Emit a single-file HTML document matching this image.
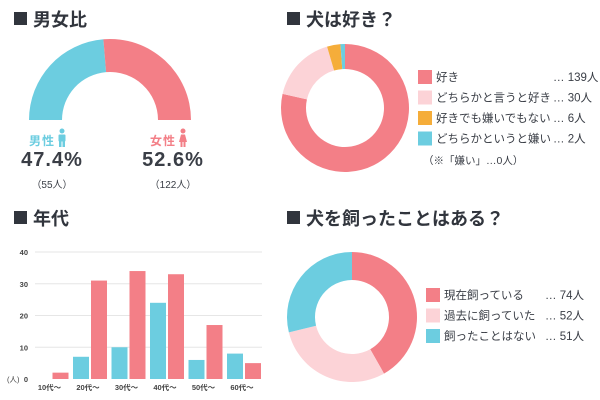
<!DOCTYPE html>
<html><head><meta charset="utf-8"><style>
body{margin:0;background:#fff;}
svg{display:block;font-family:"Liberation Sans","Noto Sans CJK JP",sans-serif;}
</style></head><body>
<svg id="s" width="600" height="400" viewBox="0 0 600 400" xmlns="http://www.w3.org/2000/svg">
<g fill="#31353d" font-weight="bold" font-size="18">
<rect x="14" y="12" width="13" height="13"/>
<text x="33" y="26">男女比</text>
<rect x="287" y="12" width="13" height="13"/>
<text x="306" y="26">犬は好き？</text>
<rect x="14" y="211" width="13" height="13"/>
<text x="33" y="225">年代</text>
<rect x="287" y="211" width="13" height="13"/>
<text x="306" y="225">犬を飼ったことはある？</text>
</g>
<g id="gender"></g>
<g id="like"></g>
<g id="age"></g>
<g id="own"></g>
</svg>
<script>
const genderLabels=["男性","女性"];
const genderCounts=[55,122];
const genderPct=["47.4%","52.6%"];
const likeLabels=["好き","どちらかと言うと好き","好きでも嫌いでもない","どちらかというと嫌い"];
const likeValues=[139,30,6,2];
const ageCats=["10代～","20代～","30代～","40代～","50代～","60代～"];
const ageMale=[0,7,10,24,6,8];
const ageFemale=[2,31,34,33,17,5];
const ageTicks=[0,10,20,30,40];
const ownLabels=["現在飼っている","過去に飼っていた","飼ったことはない"];
const ownValues=[74,52,51];

const NS="http://www.w3.org/2000/svg";
const PINK="#f37f87",CYAN="#6ccde0",LPINK="#fcd3d7",ORANGE="#f5ad3a",DARK="#31353d";
function mk(p,tag,attrs,txt){const e=document.createElementNS(NS,tag);for(const k in attrs)e.setAttribute(k,attrs[k]);if(txt!==undefined)e.textContent=txt;p.appendChild(e);return e;}
function arcPath(cx,cy,r0,r1,a0,a1){
 const p=(r,a)=>[cx+r*Math.sin(a),cy-r*Math.cos(a)];
 const lg=(a1-a0)>Math.PI?1:0;
 const [x0,y0]=p(r1,a0),[x1,y1]=p(r1,a1),[x2,y2]=p(r0,a1),[x3,y3]=p(r0,a0);
 return `M${x0},${y0}A${r1},${r1} 0 ${lg} 1 ${x1},${y1}L${x2},${y2}A${r0},${r0} 0 ${lg} 0 ${x3},${y3}Z`;
}
(function(){
 const g=document.getElementById('gender');
 const cx=110,cy=120,r0=48,r1=81;
 const fm=[0.474,0.526];
 let a=-Math.PI/2;const cols=[CYAN,PINK];
 for(let i=0;i<2;i++){const a1=a+Math.PI*fm[i];
  const e=mk(g,'path',{d:arcPath(cx,cy,r0,r1,a,a1),fill:cols[i]});
  
  
  a=a1;}
 const xs=[52,173];
 for(let i=0;i<2;i++){
  const t=mk(g,'text',{x:xs[i]-10,y:145,'font-size':12,'font-weight':'bold',fill:cols[i],'text-anchor':'middle','letter-spacing':1},genderLabels[i]);
  
  const ic=mk(g,'g',{fill:cols[i]});
  
  const ix=xs[i]+10;
  mk(ic,'circle',{cx:ix,cy:131,r:2.5});
  if(i==0){mk(ic,'rect',{x:ix-3.5,y:134.5,width:7,height:7,rx:1});mk(ic,'rect',{x:ix-3,y:141,width:2.5,height:6});mk(ic,'rect',{x:ix+0.5,y:141,width:2.5,height:6});}
  else{mk(ic,'path',{d:`M${ix-2},134.5L${ix+2},134.5L${ix+4},142L${ix-4},142Z`});mk(ic,'rect',{x:ix-2.5,y:142,width:2,height:5});mk(ic,'rect',{x:ix+0.5,y:142,width:2,height:5});}
  const p=mk(g,'text',{x:xs[i],y:166,'font-size':20,'font-weight':'bold',fill:'#3a3e46','text-anchor':'middle','letter-spacing':1},genderPct[i]);
  
  const c=mk(g,'text',{x:xs[i],y:188,'font-size':10,fill:'#3a3e46','text-anchor':'middle'},'（'+genderCounts[i]+'人）');
  
 }
})();
function donut(gid,cx,cy,r0,r1,vals,cols,labels,lx,vx,ly,dy,prefix){
 const g=document.getElementById(gid);
 const tot=vals.reduce((a,b)=>a+b,0);let a=0;
 vals.forEach((v,i)=>{const a1=a+2*Math.PI*v/tot;
  const e=mk(g,'path',{d:arcPath(cx,cy,r0,r1,a,a1),fill:cols[i]});
  a=a1;});
 vals.forEach((v,i)=>{const y=ly+i*dy;
  const le=mk(g,'g',{});
  mk(le,'rect',{x:lx,y:y-7,width:14,height:14,fill:cols[i]});
  mk(le,'text',{x:lx+18,y:y+4,'font-size':11.5,fill:'#3a3e46'},labels[i]);
  mk(le,'text',{x:vx,y:y+4,'font-size':11.5,fill:'#3a3e46'},'… '+v+'人');
 });
}
donut('like',345,108,39,64,likeValues,[PINK,LPINK,ORANGE,CYAN],likeLabels,418,553,77,20.5,'like');
(function(){const g=document.getElementById('like');
 const t=mk(g,'text',{x:423,y:164,'font-size':10.5,fill:'#3a3e46'},'（※「嫌い」…0人）');
 })();
donut('own',352,317,37,65,ownValues,[PINK,LPINK,CYAN],ownLabels,426,545,295,20.5,'own');
(function(){
 const g=document.getElementById('age');
 const y0=379,yTop=252,maxV=40;
 const y=v=>y0-(v/maxV)*(y0-yTop);
 const x=i=>51.5+i*38.5;
 ageTicks.forEach(t=>{
  if(t>0){const l=mk(g,'line',{x1:35,x2:262,y1:y(t),y2:y(t),stroke:'#e6e6e6','stroke-width':1});}
  const tx=mk(g,'text',{x:28,y:y(t)+3,'font-size':7.5,'font-weight':'bold',fill:'#444','text-anchor':'end'},t);
  
 });
 const u=mk(g,'text',{x:7,y:y0+3,'font-size':7.5,fill:'#444'},'(人)');
 
 ageCats.forEach((c,i)=>{
  const m=mk(g,'rect',{x:x(i)-17,y:y(ageMale[i]),width:16,height:y0-y(ageMale[i]),fill:CYAN});
  
  const f=mk(g,'rect',{x:x(i)+1,y:y(ageFemale[i]),width:16,height:y0-y(ageFemale[i]),fill:PINK});
  
  const t=mk(g,'text',{x:x(i)-2,y:390,'font-size':7.5,'font-weight':'bold',fill:'#444','text-anchor':'middle'},c);
  
 });
})();
</script>
</body></html>
